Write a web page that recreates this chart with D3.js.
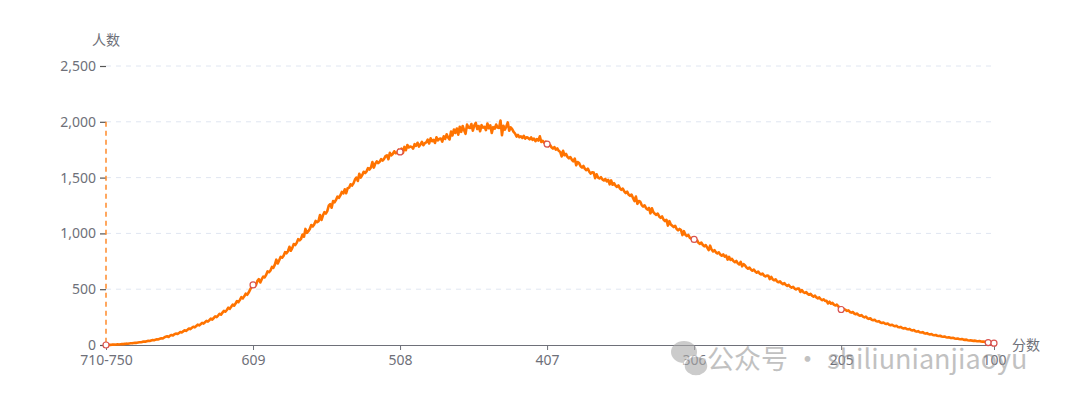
<!DOCTYPE html>
<html><head><meta charset="utf-8">
<script src="https://cdn.jsdelivr.net/npm/d3@7"></script>
<style>html,body{margin:0;padding:0;background:#fff;}svg{display:block;font-family:"Noto Sans CJK SC","Noto Sans",sans-serif;}</style>
</head><body>
<svg id="c" width="1080" height="403"></svg>
<script>
// ---- data ----
const firstCategory = "710-750";
const minScore = 100, maxScore = 709;
const categories = [firstCategory].concat(d3.range(maxScore, minScore - 1, -1).map(String));
const counts = [
0,1,2,1,3,4,3,5,6,5,
7,9,8,10,12,11,14,16,15,18,
20,19,23,25,24,28,31,30,34,37,
36,41,44,42,48,52,50,56,60,58,
68,74,78,72,84,90,86,96,102,98,
106,116,112,122,132,126,136,148,142,154,
164,158,170,182,176,186,198,192,204,216,
210,222,236,228,242,256,250,264,280,272,
290,306,298,314,334,324,342,362,352,372,
394,384,404,428,418,436,460,450,470,496,
520,538,545,536,575,590,560,590,612,605,
628,660,652,668,700,692,720,765,730,760,
790,782,800,832,822,840,880,845,870,905,
896,915,948,938,952,990,970,1040,1005,1020,
1040,1075,1062,1080,1112,1100,1110,1165,1120,1160,
1190,1178,1200,1248,1262,1230,1290,1278,1300,1330,
1318,1340,1372,1358,1395,1360,1405,1410,1440,1428,
1448,1482,1500,1470,1535,1500,1522,1552,1540,1556,
1585,1572,1590,1640,1590,1625,1645,1630,1642,1666,
1652,1668,1692,1700,1665,1722,1700,1712,1736,1718,
1722,1750,1730,1760,1720,1775,1745,1792,1770,1778,
1775,1760,1800,1785,1812,1778,1796,1820,1790,1808,
1815,1840,1806,1852,1826,1838,1810,1862,1834,1848,
1850,1822,1870,1846,1888,1860,1842,1912,1878,1930,
1900,1940,1885,1955,1910,1962,1925,1892,1975,1948,
1945,1980,1920,1968,1990,1935,1962,1915,1970,1948,
1955,1925,1985,1942,1968,1900,1952,1938,1975,1948,
1945,2012,1880,1965,1930,1958,1995,1920,1950,1935,
1910,1895,1868,1882,1862,1870,1855,1875,1850,1862,
1855,1842,1860,1838,1850,1826,1845,1832,1870,1820,
1830,1812,1822,1800,1782,1794,1772,1760,1774,1750,
1762,1740,1730,1690,1740,1700,1712,1686,1672,1684,
1660,1646,1670,1610,1640,1630,1602,1590,1604,1578,
1566,1580,1552,1536,1548,1545,1495,1530,1500,1492,
1504,1484,1474,1488,1466,1480,1440,1475,1436,1450,
1428,1416,1430,1404,1390,1402,1376,1362,1374,1348,
1336,1348,1318,1290,1330,1265,1290,1284,1254,1240,
1252,1226,1214,1228,1180,1225,1190,1176,1166,1178,
1152,1140,1152,1124,1110,1122,1070,1110,1080,1068,
1056,1068,1040,1028,1040,1030,985,1020,988,976,
986,962,952,964,946,930,940,916,906,918,
896,884,896,872,850,890,855,838,850,830,
820,830,810,800,812,792,800,765,790,762,
772,752,742,754,732,722,745,705,725,712,
694,684,694,676,666,676,658,648,658,640,
632,640,622,614,622,620,590,610,588,580,
588,570,562,570,554,546,554,538,530,538,
522,514,522,506,498,506,505,475,492,474,
466,474,458,450,458,442,434,442,426,418,
426,410,402,410,394,395,372,388,370,378,
362,354,362,346,338,318,330,322,314,306,
310,296,290,296,282,276,282,268,262,268,
254,248,254,240,234,240,226,222,226,214,
210,214,202,198,202,192,188,192,182,178,
182,172,168,172,162,158,162,152,148,152,
144,140,144,134,130,134,124,120,124,114,
112,115,106,102,106,98,95,98,90,87,
90,83,80,83,76,74,76,70,68,70,
64,62,64,58,56,58,53,51,53,48,
46,48,43,41,43,39,37,39,35,34,
35,31,30,31,27,25,22,21,20,18,16
];
const xTickLabels = ["710-750","609","508","407","306","205","100"];
const symbolCategories = ["710-750","609","508","407","306","205","104","100"];
const yTicks = [0,500,1000,1500,2000,2500];
const markLineValue = 2000;
const xName = "分数", yName = "人数";
const watermark = "公众号 · shiliunianjiaoyu";

// ---- layout ----
const svg = d3.select("#c");
const L = 106, R = 994, T = 66, B = 345;
const x = d3.scalePoint().domain(categories).range([L, R]);
const y = d3.scaleLinear().domain([0, 2500]).range([B, T]);
const txt = "#6E7079";
const numFont = "'Noto Sans','Noto Sans CJK SC',sans-serif";

// grid
svg.append("g").selectAll("line").data(yTicks.filter(d => d > 0)).join("line")
  .attr("x1", L).attr("x2", R).attr("y1", d => y(d)).attr("y2", d => y(d))
  .attr("stroke", "#E0E6F1").attr("stroke-dasharray", "5,5").attr("stroke-width", 1);

// y axis (no domain line)
const yAxis = svg.append("g").attr("transform", `translate(${L},0)`)
  .call(d3.axisLeft(y).tickValues(yTicks).tickSize(6).tickPadding(4).tickFormat(d3.format(",")));
yAxis.select(".domain").remove();
yAxis.selectAll("line").attr("stroke", "#555").attr("stroke-width", 1.2);
yAxis.selectAll("text").attr("fill", txt).style("font-size", "14px").style("font-family", numFont);

// x axis
const xAxis = svg.append("g").attr("transform", `translate(0,${B})`)
  .call(d3.axisBottom(x).tickValues(xTickLabels).tickSize(5).tickPadding(5).tickSizeOuter(0));
xAxis.select(".domain").attr("stroke", "#6E7079").attr("stroke-width", 1.2);
xAxis.selectAll("line").attr("stroke", "#6E7079");
xAxis.selectAll("text").attr("fill", txt).style("font-size", "14px").style("font-family", numFont);

// axis names
svg.append("text").attr("x", L).attr("y", 45).attr("text-anchor", "middle")
  .attr("fill", txt).style("font-size", "14px").text(yName);
svg.append("text").attr("x", 1012).attr("y", B + 5).attr("text-anchor", "start")
  .attr("fill", txt).style("font-size", "14px").text(xName);

// dashed vertical mark line
svg.append("line").attr("x1", x(categories[0])).attr("x2", x(categories[0]))
  .attr("y1", y(markLineValue)).attr("y2", y(0))
  .attr("stroke", "#ff8a2a").attr("stroke-width", 1.5).attr("stroke-dasharray", "5,4");

// line
const line = d3.line().x((d, i) => x(categories[i])).y(d => y(d));
svg.append("path").datum(counts).attr("d", line)
  .attr("fill", "none").attr("stroke", "#ff7300").attr("stroke-width", 2.6)
  .attr("stroke-linejoin", "round");

// symbols
svg.append("g").selectAll("circle").data(symbolCategories).join("circle")
  .attr("cx", d => x(d)).attr("cy", d => y(counts[categories.indexOf(d)]))
  .attr("r", 3).attr("fill", "#fff").attr("stroke", "#d9534f").attr("stroke-width", 1.2);

// watermark
const wm = svg.append("g").attr("opacity", 0.6);
wm.append("ellipse").attr("cx", 684).attr("cy", 352).attr("rx", 13).attr("ry", 11).attr("fill", "#aaa");
wm.append("ellipse").attr("cx", 696).attr("cy", 366).attr("rx", 12).attr("ry", 10).attr("fill", "#aaa").attr("stroke", "#fff").attr("stroke-width", 1.5);
wm.append("text").attr("x", 707).attr("y", 369).attr("fill", "#999")
  .style("font-size", "27px").style("font-family", "'Noto Sans CJK SC',sans-serif").text(watermark);
</script>
</body></html>
